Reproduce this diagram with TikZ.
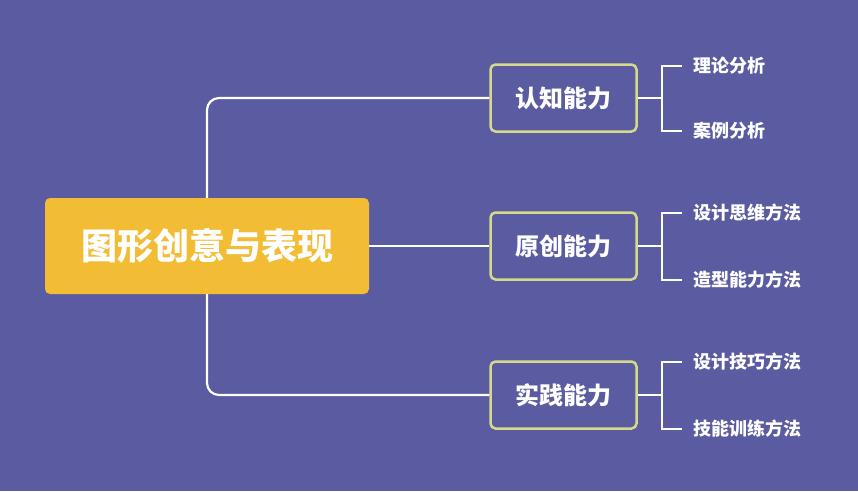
\documentclass[tikz,border=0pt]{standalone}
\usepackage{fontspec}
\newfontfamily\cjk{Noto Sans CJK SC}
\usetikzlibrary{positioning,calc}
\definecolor{bgpurple}{HTML}{5A5BA0}
\definecolor{mainyellow}{HTML}{F2BD35}
\definecolor{boxline}{HTML}{D5D98B}
\tikzset{
  mainbox/.style={fill=mainyellow,rounded corners=5pt,minimum width=324pt,minimum height=96pt,text=white,font=\cjk\bfseries\fontsize{36}{40}\selectfont},
  abilitybox/.style={draw=boxline,line width=2.5pt,fill=bgpurple,rounded corners=5pt,minimum width=146pt,minimum height=67pt,text=white,font=\cjk\bfseries\fontsize{24}{28}\selectfont},
  leaf/.style={anchor=west,inner sep=0pt,text=white,font=\cjk\bfseries\fontsize{18}{20}\selectfont},
  link/.style={white,line width=2.2pt}
}
\begin{document}
\begin{tikzpicture}[x=1pt,y=-1pt]
\fill[bgpurple] (0,0) rectangle (858,491);
\useasboundingbox (0,0) rectangle (858,491);
% main topic and the three abilities
\node[mainbox] (main) at (207,246) {图形创意与表现};
\node[abilitybox] (cog) at (563.5,98) {认知能力};
\node[abilitybox] (orig) at (563.5,246) {原创能力};
\node[abilitybox] (prac) at (563.5,395) {实践能力};
% leaves
\node[leaf] (theory) at (693,66) {理论分析};
\node[leaf] (cases) at (693,131) {案例分析};
\node[leaf] (think) at (693,213) {设计思维方法};
\node[leaf] (shape) at (693,280) {造型能力方法};
\node[leaf] (skill) at (693,362) {设计技巧方法};
\node[leaf] (train) at (693,429) {技能训练方法};
% links from the main topic
\draw[link,rounded corners=12pt] (main.north) |- (cog.west);
\draw[link,rounded corners=12pt] (main.south) |- (prac.west);
\draw[link] (main.east) -- (orig.west);
% brackets
\foreach \b/\u/\l in {cog/theory/cases,orig/think/shape,prac/skill/train} {
  \coordinate (j-\b) at ($(\b.east)+(24,0)$);
  \draw[link] (\b.east) -- (j-\b);
  \draw[link] ([xshift=-11pt]\u.west) -| (j-\b) |- ([xshift=-11pt]\l.west);
}
\end{tikzpicture}
\end{document}
